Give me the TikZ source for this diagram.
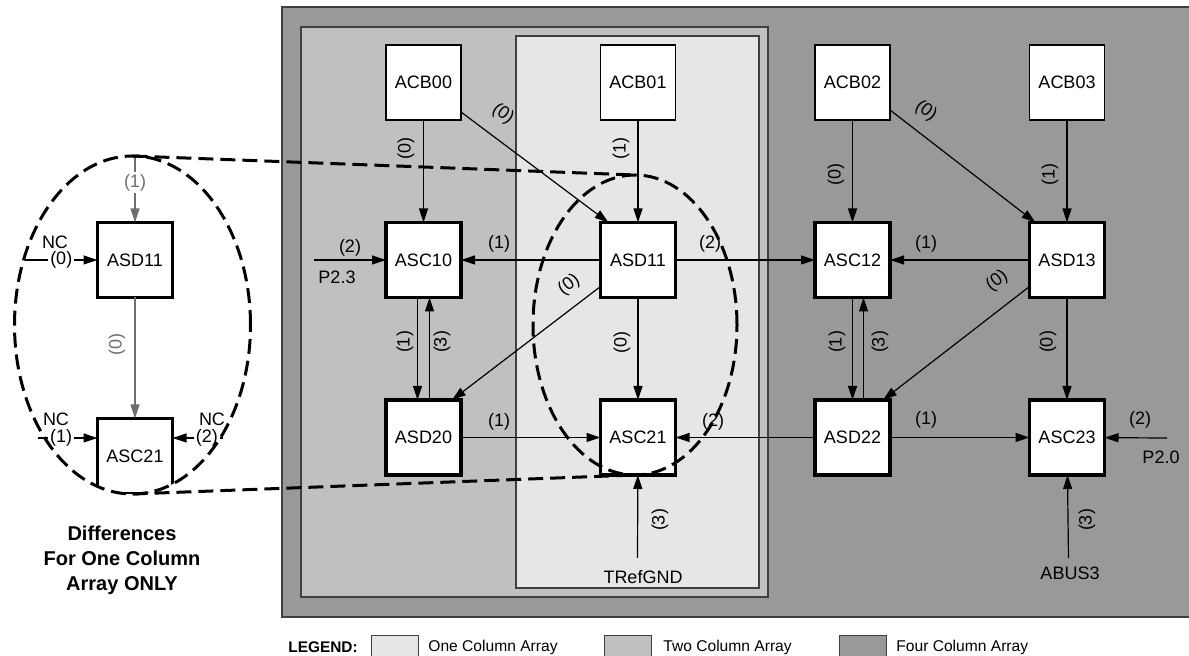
\documentclass[tikz,border=0pt]{standalone}
\usepackage{fontspec}
\setmainfont{Liberation Sans}
\usepackage{xcolor}
\usetikzlibrary{arrows.meta,positioning,calc}
\definecolor{fourcol}{HTML}{999999}
\definecolor{twocol}{HTML}{C0C0C0}
\definecolor{onecol}{HTML}{E6E6E6}
\definecolor{framegray}{HTML}{404040}
\definecolor{ghost}{HTML}{6E6E6E}

\begin{document}
\begin{tikzpicture}[x=0.5pt,y=-0.5pt,font=\fontsize{9}{10}\selectfont,>={Triangle[length=7pt,width=4.5pt]},node distance=51.25pt and 69.75pt]
\tikzset{cell/.style={draw,line width=0.6pt,fill=white,minimum size=37.5pt,inner sep=0pt,outer sep=0pt},
  core/.style={cell,line width=1.6pt},
  flow/.style={->,line width=0.6pt},
  ghostflow/.style={flow,color=ghost},
  lbl/.style={inner sep=1pt},
  zone/.style={draw=framegray,line width=0.6pt},
  lens/.style={line width=1.5pt,dash pattern=on 7.5pt off 3.5pt},
  key/.style={zone,minimum width=23.5pt,minimum height=16pt,inner sep=0pt,anchor=north west},
  keytext/.style={anchor=west,inner sep=0pt,font=\fontsize{7.8}{9}\selectfont}}
\useasboundingbox (0,0) rectangle (1189,656);
% array regions
\draw[zone,fill=fourcol] (282,7) rectangle (1200,617);
\draw[zone,fill=twocol] (301,27) rectangle (768,597);
\draw[zone,fill=onecol] (516,36) rectangle (759,588);
% blocks
\node[cell] (ACB00) at (423.5,82.5) {ACB00};
\node[cell,right=of ACB00] (ACB01) {ACB01};
\node[cell,right=of ACB01] (ACB02) {ACB02};
\node[cell,right=of ACB02] (ACB03) {ACB03};
\node[core,below=of ACB00] (ASC10) {ASC10};
\node[core,below=of ACB01] (ASD11) {ASD11};
\node[core,below=of ACB02] (ASC12) {ASC12};
\node[core,below=of ACB03] (ASD13) {ASD13};
\node[core,below=of ASC10] (ASD20) {ASD20};
\node[core,below=of ASD11] (ASC21) {ASC21};
\node[core,below=of ASC12] (ASD22) {ASD22};
\node[core,below=of ASD13] (ASC23) {ASC23};
\coordinate (p23) at (314,260);
\coordinate (p20) at (1167,438);
\coordinate (tref) at (637.5,558);
\coordinate (abus) at (1068.5,558);
% routing
\draw[flow] (ACB00) -- (ASC10);
\draw[flow] ($(ACB00.south east)+(0,-8)$) -- ($(ASD11.north west)+(8,0)$);
\draw[flow] (ACB01) -- (ASD11);
\draw[flow] (ACB02) -- (ASC12);
\draw[flow] ($(ACB02.south east)+(0,-10)$) -- ($(ASD13.north west)+(6,0)$);
\draw[flow] (ACB03) -- (ASD13);
\draw[flow] (p23) -- (ASC10);
\draw[flow] (ASD11) -- (ASC10);
\draw[flow] (ASD11) -- (ASC12);
\draw[flow] (ASD13) -- (ASC12);
\draw[flow] ($(ASD11.south west)+(0,-11)$) -- ($(ASD20.north east)+(-9,0)$);
\draw[flow] (ASD11) -- (ASC21);
\draw[flow] ($(ASD13.south west)+(0,-11)$) -- ($(ASD22.north east)+(-7,0)$);
\draw[flow] (ASD13) -- (ASC23);
\draw[flow] ($(ASC10.south)+(-6,0)$) -- ($(ASD20.north)+(-6,0)$);
\draw[flow] ($(ASD20.north)+(6,0)$) -- ($(ASC10.south)+(6,0)$);
\draw[flow] (ASC12.south) -- (ASD22.north);
\draw[flow] ($(ASD22.north)+(11,0)$) -- ($(ASC12.south)+(11,0)$);
\draw[flow] (ASD20) -- (ASC21);
\draw[flow] (ASD22) -- (ASC21);
\draw[flow] (ASD22) -- (ASC23);
\draw[flow] (p20) -- (ASC23);
\draw[flow] (tref) -- (ASC21);
\draw[flow] (abus) -- (ASC23);
% port numbers
\foreach [count=\i] \px/\py/\ang/\num in {406/149/90/0, 503/114/-37/0, 621/149/90/1, 499/244/0/1, 350/248/0/2,
    710/244/0/2, 836/175/90/0, 926/111/-37/0, 1050/175/90/1, 926/244/0/1, 569/285/37/0, 622/343/90/0,
    405/342/90/1, 442/342/90/3, 499/422/0/1, 713/422/0/2, 660/520/90/3, 997/281/37/0, 1048/342/90/0,
    837/342/90/1, 880/342/90/3, 926/420/0/1, 1140/420/0/2, 1087/520/90/3}
  \node[lbl,rotate=\ang] (port\i) at (\px,\py) {(\num)};
\node[lbl] (p23t) at (337,277) {P2.3};
\node[lbl] (p20t) at (1161,457) {P2.0};
\node[lbl] (treft) at (643,577) {TRefGND};
\node[lbl] (abust) at (1070,573) {ABUS3};
% one column detail
\coordinate (lensL) at (132.5,325);
\coordinate (lensM) at (635,325);
\coordinate (lensLT) at (132.5,156);
\coordinate (lensLB) at (132.5,494);
\coordinate (lensMT) at (635,175);
\coordinate (lensMB) at (635,475);
\node[core] (ASD11b) at (135,260) {ASD11};
\begin{scope}
\clip (lensL) ellipse [x radius=59pt,y radius=84.5pt];
\node[core] (ASC21b) at (135,456) {ASC21};
\end{scope}
\coordinate (nc0) at (25,260);
\coordinate (nc1) at (38,438);
\coordinate (nc2) at (223,438);
\draw[ghostflow] (ASD11b.north |- lensLT) -- node[lbl,fill=white,pos=0.4] (g1) {(1)} (ASD11b.north);
\draw[ghostflow] (ASD11b) -- (ASC21b.north);
\node[lbl,rotate=90,text=ghost] (g0) at (117,345) {(0)};
\draw[flow] (nc0) -- node[lbl,fill=white,pos=0.5] (n0) {(0)} (ASD11b.west);
\draw[flow] (nc1) -- node[lbl,fill=white,pos=0.39] (n1) {(1)} ($(ASC21b.north west)+(0,19.5)$);
\draw[flow] (nc2) -- node[lbl,fill=white,pos=0.32] (n2) {(2)} ($(ASC21b.north east)+(0,19.5)$);
\node[lbl] (nc0t) at (55,242) {NC};
\node[lbl] (nc1t) at (56,419) {NC};
\node[lbl] (nc2t) at (212,419) {NC};
\draw[lens] (lensL) ellipse [x radius=59pt,y radius=84.5pt];
\draw[lens] (lensM) ellipse [x radius=51pt,y radius=75pt];
\draw[lens] (lensLT) -- (lensMT);
\draw[lens] (lensLB) -- (lensMB);
\node[align=center,font=\bfseries\fontsize{10}{12.5}\selectfont] (diff) at (122,560) {Differences\\For One Column\\Array ONLY};
% legend
\node[anchor=west,inner sep=0pt,font=\bfseries\fontsize{7.7}{9}\selectfont] (legend) at (288,647) {LEGEND:};
\node[key,fill=onecol] (key1) at (371,635) {};
\node[keytext] (key1t) at (428,647) {One Column Array};
\node[key,fill=twocol] (key2) at (604,635) {};
\node[keytext] (key2t) at (663,647) {Two Column Array};
\node[key,fill=fourcol] (key4) at (839,635) {};
\node[keytext] (key4t) at (896,647) {Four Column Array};
\end{tikzpicture}
\end{document}
